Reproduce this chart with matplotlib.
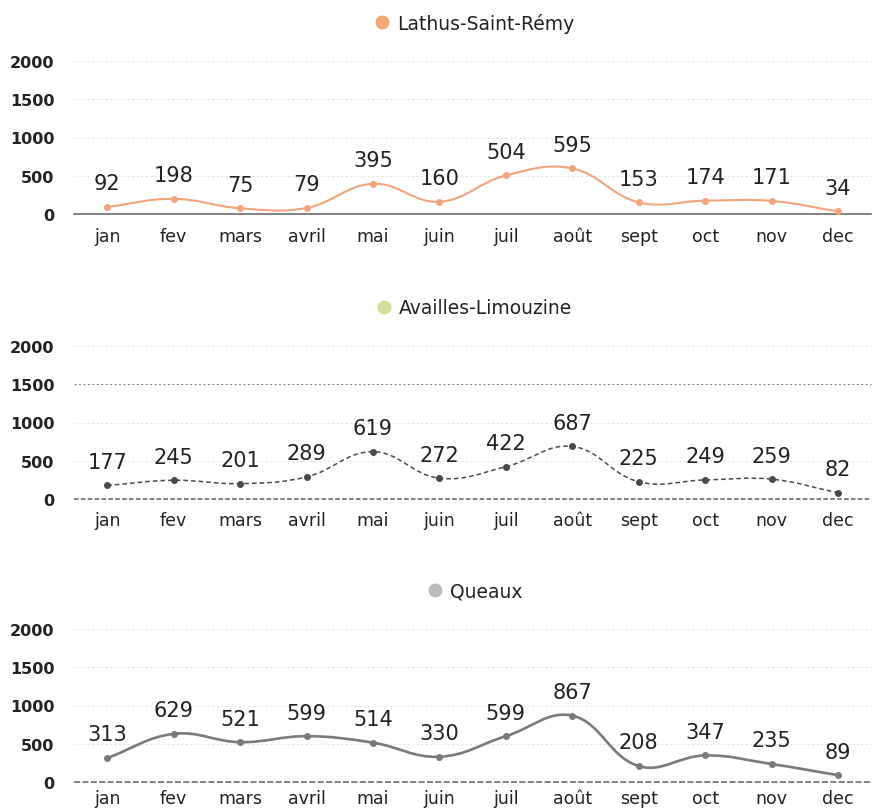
import matplotlib
matplotlib.use("Agg")

import matplotlib.pyplot as plt
import numpy as np
from matplotlib.path import Path
from matplotlib.patches import PathPatch
from matplotlib.lines import Line2D

plt.rcParams["font.family"] = ["DejaVu Sans"]

# ─── Data ────────────────────────────────────────────────────────────────
months = ["jan", "fev", "mars", "avril", "mai", "juin",
          "juil", "août", "sept", "oct", "nov", "dec"]

lathus   = [92, 198, 75, 79, 395, 160, 504, 595, 153, 174, 171, 34]
availles = [177, 245, 201, 289, 619, 272, 422, 687, 225, 249, 259, 82]
queaux   = [313, 629, 521, 599, 514, 330, 599, 867, 208, 347, 235, 89]

series_names = ["Lathus-Saint-Rémy", "Availles-Limouzine", "Queaux"]
y_ticks = [0, 500, 1000, 1500, 2000]

# ─── Style ───────────────────────────────────────────────────────────────
LINE_COLORS   = ["#f2a47c", "#4a4a4a", "#7a7a7a"]
LEGEND_COLORS = ["#f4a06e", "#cddc8f", "#b5b5b5"]
LINE_STYLES   = ["-", (0, (3, 2)), "-"]
LINE_WIDTHS   = [1.5, 1.1, 1.9]
ZERO_STYLES   = ["-", (0, (3, 1.5)), (0, (4, 1.5))]
XTICK_PADS    = [9, 9, 5]
TEXT_COLOR    = "#222222"
GRID_COLOR    = "#e4e4e4"
ZERO_COLOR    = "#5e5e5e"

W, H = 873, 812
PANEL_ZERO_PX = [215, 500, 783]
PANEL_H_PX    = 153
LEFT_PX       = 74


def smooth_path(xs, ys, sx, sy, tension=0.4):
    """Chart.js-like bezier spline (control points from neighbours)."""
    pts = np.column_stack([xs, ys]).astype(float)
    n = len(pts)
    scale = np.array([sx, sy])
    verts = [tuple(pts[0])]
    codes = [Path.MOVETO]
    cps = []
    for i in range(n):
        prev = pts[max(i - 1, 0)]
        cur = pts[i]
        nxt = pts[min(i + 1, n - 1)]
        d01 = np.hypot(*((cur - prev) * scale))
        d12 = np.hypot(*((nxt - cur) * scale))
        tot = d01 + d12 if d01 + d12 > 0 else 1.0
        fa = tension * d01 / tot
        fb = tension * d12 / tot
        cps.append((cur - fa * (nxt - prev), cur + fb * (nxt - prev)))
    for i in range(1, n):
        verts += [tuple(cps[i - 1][1]), tuple(cps[i][0]), tuple(pts[i])]
        codes += [Path.CURVE4] * 3
    return Path(verts, codes)


fig = plt.figure(figsize=(W / 100, H / 100), dpi=100, facecolor="white")

all_series = [lathus, availles, queaux]
x = np.arange(len(months))

for k, values in enumerate(all_series):
    bottom = 1 - PANEL_ZERO_PX[k] / H
    ax = fig.add_axes([LEFT_PX / W, bottom, 1 - LEFT_PX / W - 0.002,
                       PANEL_H_PX / H])
    ax.set_xlim(-0.5, len(months) - 0.5)
    ax.set_ylim(0, 2000)

    for s in ax.spines.values():
        s.set_visible(False)
    for yt in y_ticks[1:]:
        gc = "#8c8c8c" if (k == 1 and yt == 1500) else GRID_COLOR
        ax.axhline(yt, color=gc, lw=0.8, ls=(0, (2, 2)), zorder=0,
                   clip_on=False)
    ax.axhline(0, color=ZERO_COLOR, lw=1.1, zorder=1, ls=ZERO_STYLES[k],
               clip_on=False)

    path = smooth_path(x, values, 66.4, PANEL_H_PX / 2000)
    ax.add_patch(PathPatch(path, fill=False, edgecolor=LINE_COLORS[k],
                           lw=LINE_WIDTHS[k], ls=LINE_STYLES[k], zorder=2))
    ax.plot(x, values, "o", color=LINE_COLORS[k], ms=4, zorder=3)

    for xi, v in zip(x, values):
        ax.annotate(str(v), (xi, v), xytext=(0, 17), textcoords="offset points",
                    ha="center", va="center", fontsize=15,
                    color=TEXT_COLOR, zorder=4)

    ax.set_xticks(x)
    ax.set_xticklabels(months, fontsize=12.5, color=TEXT_COLOR)
    ax.set_yticks(y_ticks)
    ax.set_yticklabels([str(t) for t in y_ticks], fontsize=11.5,
                       color=TEXT_COLOR, fontweight="bold")
    ax.tick_params(length=0, axis="x", pad=XTICK_PADS[k])
    ax.tick_params(length=0, axis="y", pad=14)

    handle = Line2D([], [], marker="o", ls="", ms=9,
                    color=LEGEND_COLORS[k], alpha=0.9)
    ax.legend([handle], [series_names[k]], loc="center",
              bbox_to_anchor=(0.5, 1.0 + 38 / PANEL_H_PX), frameon=False,
              fontsize=13.5, handletextpad=0.2, handlelength=1.2,
              labelcolor=TEXT_COLOR)

fig.savefig("out.png", dpi=100, facecolor="white")
